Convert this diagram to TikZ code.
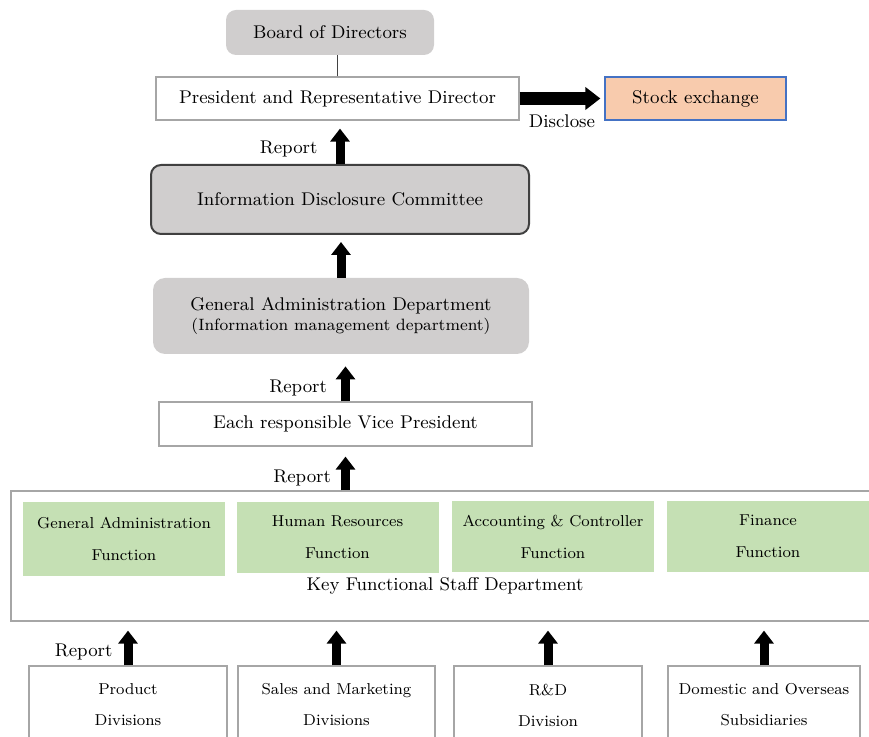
\documentclass[tikz,border=0pt]{standalone}
\usepackage{tikz}
\usetikzlibrary{arrows.meta, positioning, calc}

\definecolor{boxgray}{HTML}{D0CECE}
\definecolor{linegray}{HTML}{A6A6A6}
\definecolor{funcgreen}{HTML}{C5E0B4}
\definecolor{stockorange}{HTML}{F8CBAD}
\definecolor{stockblue}{HTML}{4472C4}

\tikzstyle{plainbox} = [draw=linegray, fill=white, line width=0.6pt, font=\fontsize{9.2}{11}\selectfont, inner sep=0pt]
\tikzstyle{graybox} = [fill=boxgray, rounded corners=5pt, font=\fontsize{9.2}{11}\selectfont, inner sep=0pt]
\tikzstyle{funcbox} = [fill=funcgreen, align=center, font=\fontsize{7.9}{16}\selectfont, minimum width=101pt, minimum height=35.5pt, inner sep=0pt]
\tikzstyle{divbox} = [draw=linegray, fill=white, line width=0.6pt, align=center, font=\fontsize{7.9}{15.5}\selectfont, minimum height=39pt, inner sep=0pt]
\tikzstyle{bigarrow} = [line width=4.5pt, -{Triangle[length=6.5pt,width=9.5pt]}]
\tikzstyle{lbl} = [font=\fontsize{9.2}{11}\selectfont, inner sep=0pt]

\begin{document}
\begin{tikzpicture}[x=0.5pt, y=-0.5pt]

   % page area
   \clip (0,0) rectangle (869,737);

   % Top of the chart
   \node[graybox, minimum width=104pt, minimum height=22.5pt] (board) at (330,32.5) {Board of Directors};
   \node[plainbox, minimum width=181.5pt, minimum height=21.5pt] (pres) at (337.5,98.5) {President and Representative Director};
   \node[plainbox, draw=stockblue, fill=stockorange, minimum width=90.5pt, minimum height=21.5pt] (stock) at (695.5,98.5) {Stock exchange};
   \draw[linegray!40!black, line width=0.5pt] (pres.north) -- (pres.north |- board.south);

   % Committee and management department
   \node[graybox, draw=black!75, line width=1pt, minimum width=189pt, minimum height=34.5pt] (idc) at (340,199.5) {Information Disclosure Committee};
   \node[graybox, rounded corners=6pt, align=center, minimum width=188pt, minimum height=38pt] (gad) at (341,316)
      {General Administration Department\\[-1pt] {\fontsize{8.2}{10}\selectfont (Information management department)}};
   \node[plainbox, minimum width=186.5pt, minimum height=22pt] (vp) at (345.5,424) {Each responsible Vice President};

   % Key functional staff department
   \node[plainbox, minimum width=432pt, minimum height=65pt] (staff) at (443,556) {};
   \node[funcbox, minimum height=37pt] (ga) at (124,539) {General Administration\\Function};
   \node[funcbox] (hr) at (337.5,537.5) {Human Resources\\Function};
   \node[funcbox] (acc) at (553,536.5) {Accounting \& Controller\\Function};
   \node[funcbox] (fin) at (768,536.5) {Finance\\Function};
   \node[lbl] (stafflbl) at (445,586) {Key Functional Staff Department};

   % Divisions at the bottom
   \node[divbox, minimum width=99pt] (prod) at (128,705) {Product\\Divisions};
   \node[divbox, minimum width=98.5pt] (sales) at (336.5,705) {Sales and Marketing\\Divisions};
   \node[divbox, minimum width=94pt] (rd) at (548,705) {R\&D\\Division};
   \node[divbox, minimum width=96pt] (subs) at (764,705) {Domestic and Overseas\\Subsidiaries};

   % Reporting arrows
   \draw[bigarrow, shorten >=4pt] (idc.north) -- node[lbl, left=9pt, pos=0.35] {Report} (idc.north |- pres.south);
   \draw[bigarrow, shorten >=3.5pt] (gad.north) -- (gad.north |- idc.south);
   \draw[bigarrow, shorten >=6pt] (vp.north) -- node[lbl, left=7pt, pos=0.29] {Report} (vp.north |- gad.south);
   \draw[bigarrow, shorten >=5pt] (staff.north -| vp.north) -- node[lbl, left=5pt, pos=0.29] {Report} (vp.south);
   \draw[bigarrow, shorten >=4.5pt] (prod.north) -- node[lbl, left=5.5pt, pos=0.31] {Report} (prod.north |- staff.south);
   \draw[bigarrow, shorten >=4.5pt] (sales.north) -- (sales.north |- staff.south);
   \draw[bigarrow, shorten >=4.5pt] (rd.north) -- (rd.north |- staff.south);
   \draw[bigarrow, shorten >=4.5pt] (subs.north) -- (subs.north |- staff.south);

   % Disclosure arrow
   \draw[line width=6.5pt, -{Triangle[length=7.5pt,width=11pt]}, shorten >=2pt] (pres.east) -- node[lbl, below=5pt] {Disclose} (stock.west);

\end{tikzpicture}
\end{document}
